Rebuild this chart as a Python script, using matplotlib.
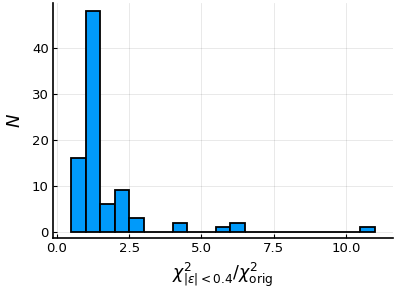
import matplotlib.pyplot as plt
import numpy as np

# histogram bins (width 0.5) and counts
bin_left = np.arange(0.5, 11.0, 0.5)
counts = [16, 48, 6, 9, 3, 0, 0, 2, 0, 0, 1, 2, 0, 0, 0, 0, 0, 0, 0, 0, 1]
bin_width = 0.5
xticks = [0.0, 2.5, 5.0, 7.5, 10.0]
yticks = [0, 10, 20, 30, 40]

fig = plt.figure(figsize=(3.98, 2.99), dpi=100)
ax = fig.add_axes([53 / 398, 61 / 299, 340 / 398, 235 / 299])

ax.bar(bin_left, counts, width=bin_width, align="edge",
       color="#009AFA", edgecolor="black", linewidth=1.3, zorder=3)

ax.set_xlim(-0.14, 11.63)
ax.set_ylim(-1.35, 49.7)
ax.set_xticks(xticks)
ax.set_xticklabels([f"{t:.1f}" for t in xticks])
ax.set_yticks(yticks)

ax.grid(True, color="black", alpha=0.1, linewidth=0.6)
for s in ["top", "right"]:
    ax.spines[s].set_visible(False)
for s in ["left", "bottom"]:
    ax.spines[s].set_linewidth(1.2)
ax.tick_params(direction="in", length=3, width=0.8, labelsize=9.5, pad=3)

ax.set_ylabel("$N$", fontsize=13, labelpad=6)
ax.set_xlabel(r"$\chi^2_{|\varepsilon|<0.4}/\chi^2_{\mathrm{orig}}$", fontsize=12.5, labelpad=4)

fig.savefig("out.png", dpi=100)
plt.close()
